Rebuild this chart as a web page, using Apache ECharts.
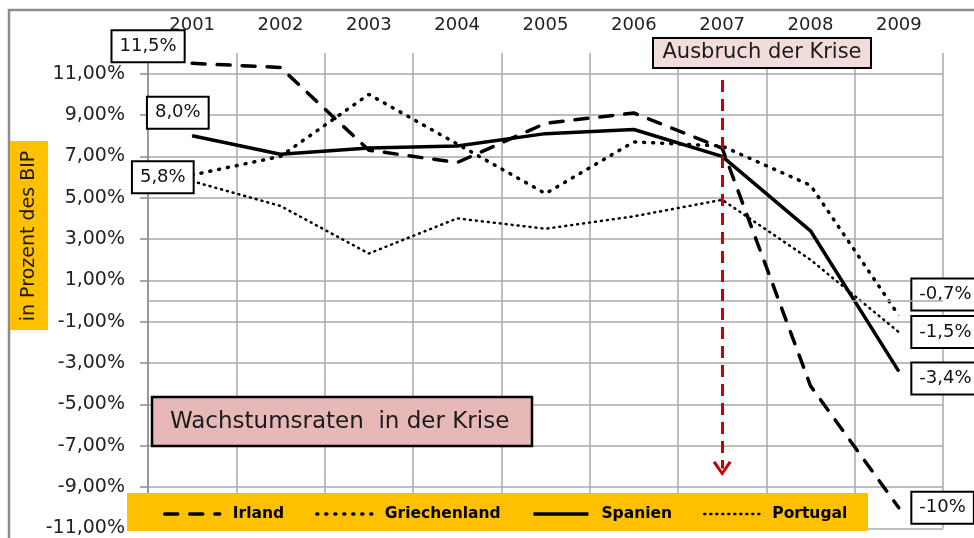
<!DOCTYPE html>
<html>
<head>
<meta charset="utf-8">
<script src="https://cdn.jsdelivr.net/npm/echarts@6/dist/echarts.min.js"></script>
<style>
  html, body { margin: 0; padding: 0; background: #fff; }
  #main { width: 974px; height: 538px; }
</style>
</head>
<body>
<div id="main"></div>
<script>
  // Daten (Wachstumsraten in %)
  const years = ['2001', '2002', '2003', '2004', '2005', '2006', '2007', '2008', '2009'];
  const irland = [11.5, 11.3, 7.3, 6.7, 8.6, 9.1, 7.4, -4.1, -10.0];
  const griechenland = [6.1, 7.0, 10.0, 7.6, 5.2, 7.7, 7.5, 5.6, -0.7];
  const spanien = [8.0, 7.1, 7.4, 7.5, 8.1, 8.3, 7.0, 3.4, -3.4];
  const portugal = [5.8, 4.6, 2.3, 4.0, 3.5, 4.1, 4.9, 2.0, -1.5];
  const yTicks = [-11, -9, -7, -5, -3, -1, 1, 3, 5, 7, 9, 11];
  const crisisYear = '2007';
  const arrowFrom = 10.7;
  const arrowTo = -8.1;

  const FONT = 'DejaVu Sans';

  // Linienstile je Land
  const styles = {
    Irland: { width: 3.5, type: [13, 12], cap: 'round' },
    Griechenland: { width: 3.5, type: [1, 8], cap: 'round' },
    Spanien: { width: 3.5, type: 'solid' },
    Portugal: { width: 2.5, type: [1, 5], cap: 'round' }
  };

  function pct (v) {
    if (Number.isInteger(v) && Math.abs(v) >= 10) return v + '%';
    return v.toFixed(1).replace('.', ',') + '%';
  }

  // Rahmen der Wertebeschriftungen
  const boxLabel = {
    show: true,
    fontFamily: FONT,
    fontSize: 18,
    color: '#111',
    backgroundColor: '#fff',
    borderColor: '#000',
    borderWidth: 2,
    padding: [6, 7, 5, 7],
    lineHeight: 19
  };

  // welche Punkte eine Beschriftung bekommen (Index -> Position)
  function makeSeries (name, values, labelAt) {
    return {
      name: name,
      type: 'line',
      symbol: 'none',
      color: '#000',
      lineStyle: Object.assign({ color: '#000' }, styles[name]),
      z: 3,
      data: values.map(function (v, i) {
        const cfg = labelAt[i];
        if (!cfg) return v;
        return {
          value: v,
          symbol: 'circle',
          symbolSize: 1,
          itemStyle: { color: '#000' },
          label: Object.assign({}, boxLabel, {
            position: cfg.pos,
            offset: cfg.off,
            formatter: pct(v)
          })
        };
      })
    };
  }

  const chevron = 'path://M0,10 L6,0 L12,10 L10.2,11 L6,3.6 L1.8,11 Z';

  const myChart = echarts.init(document.getElementById('main'));
  const option = {
    animation: false,
    textStyle: { fontFamily: FONT },
    grid: { left: 148, right: 31, top: 53, bottom: 9 },
    xAxis: {
      type: 'category',
      position: 'top',
      data: years,
      boundaryGap: true,
      axisLine: { show: false },
      axisTick: { show: false },
      axisLabel: { margin: 19, fontSize: 18, color: '#222', fontFamily: FONT },
      splitLine: { show: true, lineStyle: { color: '#a8a8a8', width: 1.5 } }
    },
    yAxis: {
      type: 'value',
      min: -11,
      max: 12,
      axisLine: { show: true, lineStyle: { color: '#8c8c8c', width: 1.5 } },
      axisTick: { show: true, inside: false, length: 8, customValues: yTicks, lineStyle: { color: '#8c8c8c', width: 1.5 } },
      axisLabel: {
        customValues: yTicks,
        margin: 23,
        fontSize: 19,
        color: '#222',
        fontFamily: FONT,
        formatter: function (v) { return v.toFixed(2).replace('.', ',') + '%' }
      },
      splitLine: { show: true, lineStyle: { color: '#a8a8a8', width: 1.5 } }
    },
    legend: {
      data: ['Irland', 'Griechenland', 'Spanien', 'Portugal'].map(function (n) {
        return { name: n, lineStyle: Object.assign({ color: '#000' }, styles[n]) };
      }),
      left: 158,
      top: 501,
      z: 20,
      itemWidth: 55,
      itemHeight: 12,
      itemGap: 31,
      itemStyle: { opacity: 0 },
      textStyle: { fontFamily: FONT, fontWeight: 'bold', fontSize: 15.5, color: '#000', padding: [0, 0, 0, 8] }
    },
    series: [
      makeSeries('Irland', irland, {
        0: { pos: 'left', off: [-3, -17] },
        8: { pos: 'right', off: [8, 0] }
      }),
      makeSeries('Griechenland', griechenland, {
        8: { pos: 'right', off: [8, -21] }
      }),
      makeSeries('Spanien', spanien, {
        0: { pos: 'left', off: [21, -23] },
        8: { pos: 'right', off: [8, 7] }
      }),
      makeSeries('Portugal', portugal, {
        0: { pos: 'left', off: [6, -4] },
        8: { pos: 'right', off: [8, 0] }
      }),
      {
        // Nulllinie und Pfeil "Ausbruch der Krise"
        type: 'line',
        data: [],
        markLine: {
          silent: true,
          animation: false,
          symbol: ['none', 'none'],
          label: { show: false },
          data: [
            {
              yAxis: 0,
              lineStyle: { color: '#a8a8a8', width: 1.5, type: 'solid' }
            },
            [
              { coord: [crisisYear, arrowFrom] },
              {
                coord: [crisisYear, arrowTo],
                symbol: chevron,
                symbolSize: [19, 15],
                lineStyle: { color: '#cc0000', width: 3, type: [12, 7] }
              }
            ]
          ],
          lineStyle: { color: '#cc0000', width: 3, type: [12, 7] }
        }
      }
    ],
    graphic: [
      {
        type: 'rect',
        z: 0,
        shape: { x: 9, y: 10, width: 990, height: 560 },
        style: { fill: 'none', stroke: '#8c8c8c', lineWidth: 2.5 }
      },
      {
        type: 'rect',
        z: 10,
        shape: { x: 10, y: 141, width: 38, height: 189 },
        style: { fill: '#ffc000' }
      },
      {
        type: 'text',
        z: 11,
        x: 29,
        y: 236,
        rotation: Math.PI / 2,
        style: {
          text: 'in Prozent des BIP',
          font: '19px "DejaVu Sans"',
          fill: '#1a1a1a',
          align: 'center',
          verticalAlign: 'middle'
        }
      },
      {
        type: 'rect',
        z: 10,
        shape: { x: 127, y: 493, width: 741, height: 38 },
        style: { fill: '#ffc000' }
      },
      {
        type: 'rect',
        z: 10,
        shape: { x: 152, y: 397, width: 380, height: 49 },
        style: { fill: '#e6b8b7', stroke: '#000', lineWidth: 2.5 }
      },
      {
        type: 'text',
        z: 11,
        x: 170,
        y: 422,
        style: {
          text: 'Wachstumsraten  in der Krise',
          font: '23px "DejaVu Sans"',
          fill: '#1a1a1a',
          align: 'left',
          verticalAlign: 'middle'
        }
      },
      {
        type: 'rect',
        z: 10,
        shape: { x: 653, y: 38, width: 218, height: 30 },
        style: { fill: '#f2dcdb', stroke: '#000', lineWidth: 2 }
      },
      {
        type: 'text',
        z: 11,
        x: 762,
        y: 53,
        style: {
          text: 'Ausbruch der Krise',
          font: '21px "DejaVu Sans"',
          fill: '#1a1a1a',
          align: 'center',
          verticalAlign: 'middle'
        }
      }
    ]
  };
  myChart.setOption(option);
</script>
</body>
</html>
